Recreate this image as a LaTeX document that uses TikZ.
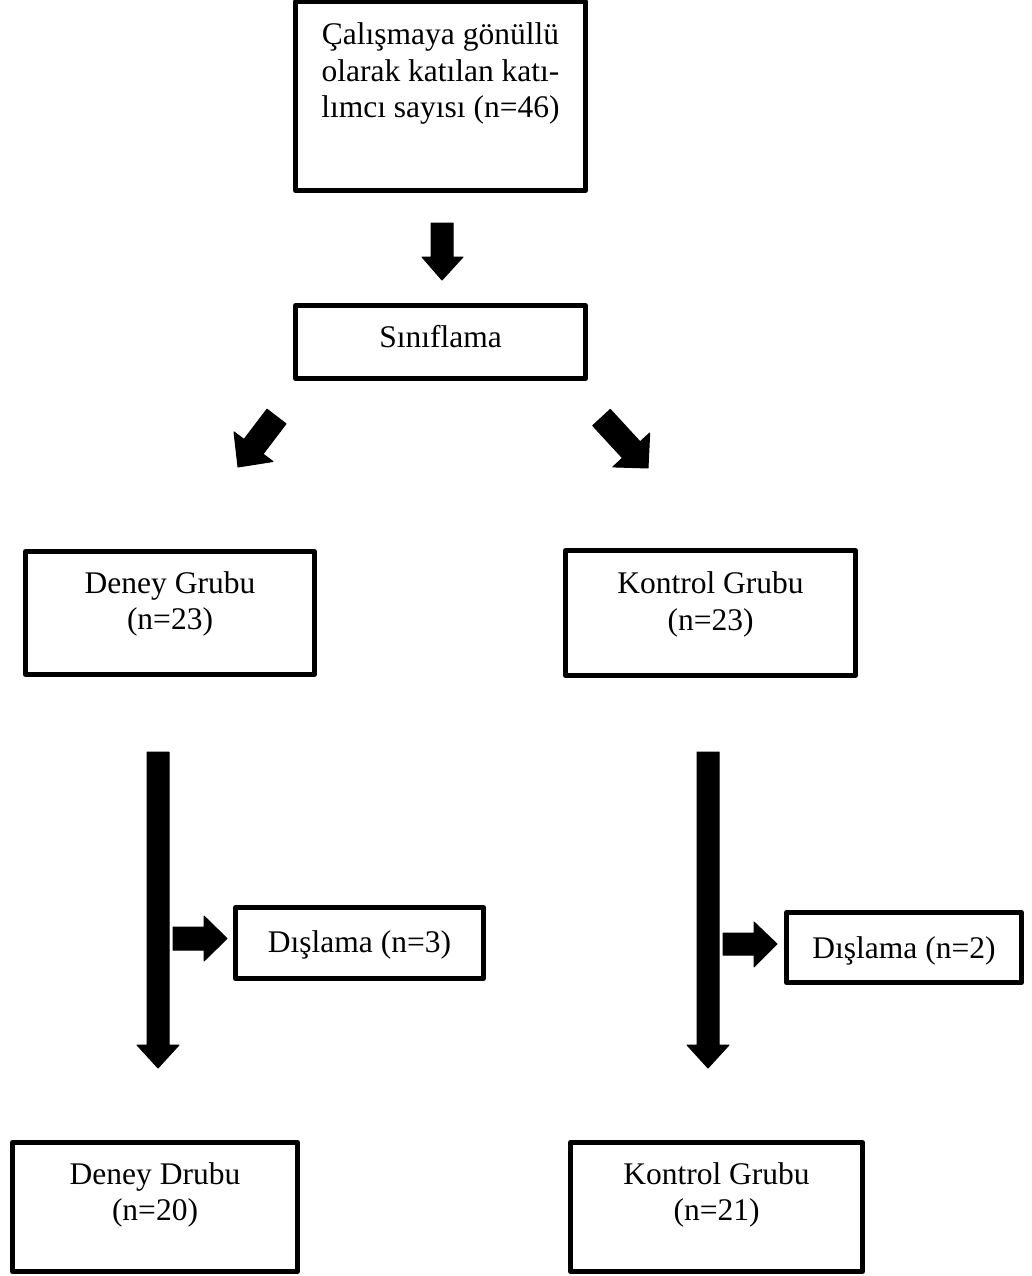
\documentclass[tikz,border=0pt]{standalone}
\usepackage{fontspec}
\setmainfont{Liberation Serif}
\newcommand\fs{\fontsize{31.5}{36.5}\selectfont}
\begin{document}
\begin{tikzpicture}[x=1pt,y=-1pt,
  box/.style={draw, line width=5pt, line join=round, inner sep=0pt},
  txt/.style={font=\fs, align=center, inner sep=0pt, anchor=north},
  blk/.style={fill=black, draw=black, line width=1pt, line join=round}]
\useasboundingbox (0,0) rectangle (1032,1276);

% boxes
\node[box, minimum width=290pt, minimum height=188.5pt] (top) at (440.5,96.25) {};
\node[txt] (toptxt) at ([yshift=-19.5pt]top.north) {\strut Çalışmaya gönüllü\\olarak katılan katı-\\lımcı sayısı (n=46)};

\node[box, minimum width=290pt, minimum height=73pt] (sinif) at (440.5,342) {};
\node[txt] (siniftxt) at ([yshift=-18.45pt]sinif.north) {\strut Sınıflama};

\node[box, minimum width=289pt, minimum height=123pt] (deney) at (170,613) {};
\node[txt] (deneytxt) at ([yshift=-18.5pt]deney.north) {\strut Deney Grubu\\(n=23)};

\node[box, minimum width=290pt, minimum height=125pt] (kontrol) at (710.5,613) {};
\node[txt] (kontroltxt) at ([yshift=-19.8pt]kontrol.north) {\strut Kontrol Grubu\\(n=23)};

\node[box, minimum width=248pt, minimum height=71pt] (disA) at (359.5,943) {};
\node[txt] (disAtxt) at ([yshift=-21.45pt]disA.north) {\strut Dışlama (n=3)};

\node[box, minimum width=235pt, minimum height=70pt] (disB) at (904,947.5) {};
\node[txt] (disBtxt) at ([yshift=-22.45pt]disB.north) {\strut Dışlama (n=2)};

\node[box, minimum width=285pt, minimum height=129pt] (deneyS) at (155,1207) {};
\node[txt] (deneyStxt) at ([yshift=-18.45pt]deneyS.north) {\strut Deney Drubu\\(n=20)};

\node[box, minimum width=292pt, minimum height=129pt] (kontrolS) at (716.5,1207) {};
\node[txt] (kontrolStxt) at ([yshift=-18.45pt]kontrolS.north) {\strut Kontrol Grubu\\(n=21)};

% block arrows
\fill[blk] (431,223) -- (453,223) -- (453,257) -- (463,257) -- (442,280) -- (422,257) -- (431,257) -- cycle;

\fill[blk] (267.0,409.2) -- (286.0,423.8) -- (263.0,454.0) -- (273.0,461.5) -- (238,467) -- (234.0,431.9) -- (244.0,439.4) -- cycle;

\fill[blk] (592.7,425.6) -- (610.3,409.4) -- (640.1,441.8) -- (649.7,433.0) -- (648,468) -- (612.9,466.9) -- (622.5,458.0) -- cycle;

\fill[blk] (147,752) -- (169,752) -- (169,1045) -- (179,1045) -- (158,1068) -- (137,1045) -- (147,1045) -- cycle;
\fill[blk] (697,752) -- (719,752) -- (719,1045) -- (729,1045) -- (708,1068) -- (687,1045) -- (697,1045) -- cycle;

\fill[blk] (173,927) -- (204,927) -- (204,916) -- (227,938.5) -- (204,961) -- (204,950) -- (173,950) -- cycle;
\fill[blk] (723,933) -- (754,933) -- (754,922) -- (777,944) -- (754,967) -- (754,955) -- (723,955) -- cycle;
\end{tikzpicture}
\end{document}
